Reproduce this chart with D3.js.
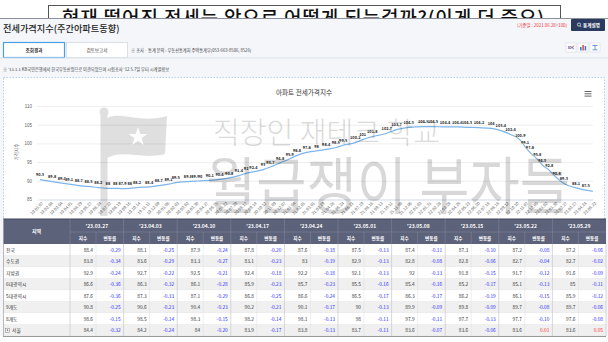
<!DOCTYPE html>
<html><head><meta charset="utf-8">
<script src="https://cdn.jsdelivr.net/npm/d3@7"></script>
<style>
html,body{margin:0;padding:0;background:#fff;}
svg{display:block;font-family:"Noto Sans CJK KR","Noto Sans",sans-serif;}
</style></head><body>
<svg id="c" width="608" height="342"></svg>
<script>
// ---- text ----
const bannerTitle = "현재 떨어진 전세는 앞으로 어떻게 되는걸까?(이게 더 중요)";
const pageTitle = "전세가격지수(주간아파트동향)";
const baseNote = "(기준일 : 2021.06.28=100)";
const inquiryNote = "※ 조사 · 통계 문의 : 부동산통계처 주택통계부(053-663-8506, 8526)";
const seriesNote = "※ '13.1.1 KB국민은행에서 한국부동산원으로 이관되었으며 시험조사 '12.5.7일 부터 시계열확보";
const chartTitle = "아파트 전세가격지수";
const yTitle = "가격지수";

// ---- chart series (labelled weekly points) ----
const pointDates = ["2019-01-07","2019-02-11","2019-03-11","2019-04-01","2019-04-29","2019-05-27","2019-06-24","2019-07-22","2019-08-12","2019-09-02","2019-09-23","2019-10-14","2019-11-18","2019-12-16","2020-01-13","2020-02-03","2020-03-09","2020-03-30","2020-04-13","2020-05-11","2020-06-08","2020-07-06","2020-08-03","2020-08-24","2020-09-14","2020-10-12","2020-11-02","2020-11-30","2020-12-28","2021-01-18","2021-02-15","2021-03-15","2021-04-12","2021-05-10","2021-05-31","2021-07-05","2021-07-26","2021-08-23","2021-10-04","2021-11-01","2021-12-06","2022-01-17","2022-02-14","2022-03-21","2022-04-25","2022-05-23","2022-06-27","2022-08-01","2022-08-29","2022-09-26","2022-10-24","2022-11-07","2022-11-21","2022-12-12","2022-12-26","2023-01-16","2023-02-06","2023-02-27","2023-04-03","2023-05-01"];
const pointValues = [90.3,89.8,89.4,89.1,88.7,88.5,88.2,88,88,87.9,88,88.2,88.4,88.7,89.1,89.5,89.8,89.9,90,90.1,90.4,90.8,91.4,92,92.4,93,93.7,94.8,95.9,96.8,97.6,98,98.4,98.9,99.5,100.2,101,101.8,102.7,103.7,104.3,104.5,104.5,104.4,104.4,104.3,104.2,104,103.4,102.4,100.9,99.1,97.6,95.8,94.3,92.8,90.8,89.3,88.1,87.5];
// latest weeks drawn on the line without a label
const trailingDates = ["2023-05-08","2023-05-15","2023-05-22"];
const trailingValues = [87.4,87.3,87.2];

const axisStart = "2019-01-07", axisEnd = "2023-05-22";
const yTicks = [85,90,95,100,105,110];

// ---- table ----
const regions = ["전국","수도권","지방권","6대광역시","5대광역시","9개도","8개도","서울"];
const weekLabels = ["'23.03.27","'23.04.03","'23.04.10","'23.04.17","'23.04.24","'23.05.01","'23.05.08","'23.05.15","'23.05.22","'23.05.29"];
const indexRows = [
  [88.4,88.1,87.9,87.8,87.6,87.5,87.4,87.3,87.2,87.2],
  [83.8,83.6,83.3,83.1,83,82.9,82.8,82.8,82.7,82.7],
  [92.9,92.7,92.5,92.4,92.2,92.1,92,91.8,91.7,91.6],
  [86.6,86.3,86.1,85.9,85.7,85.5,85.4,85.2,85.1,85],
  [87.6,87.3,87.1,86.8,86.6,86.5,86.3,86.2,86.1,85.9],
  [90.8,90.6,90.4,90.2,90.1,90,89.9,89.8,89.7,89.7],
  [98.6,98.5,98.3,98.2,98.1,98,97.9,97.7,97.7,97.6],
  [84.4,84.2,84,83.9,83.8,83.7,83.6,83.6,83.6,83.6]
];
const changeRows = [
  [-0.29,-0.25,-0.24,-0.20,-0.18,-0.13,-0.11,-0.10,-0.08,-0.06],
  [-0.34,-0.29,-0.27,-0.23,-0.19,-0.13,-0.08,-0.06,-0.04,-0.02],
  [-0.24,-0.22,-0.21,-0.18,-0.18,-0.13,-0.13,-0.15,-0.12,-0.09],
  [-0.36,-0.32,-0.28,-0.23,-0.23,-0.16,-0.16,-0.17,-0.13,-0.11],
  [-0.36,-0.33,-0.29,-0.25,-0.24,-0.17,-0.17,-0.19,-0.15,-0.12],
  [-0.25,-0.23,-0.23,-0.21,-0.17,-0.13,-0.09,-0.09,-0.08,-0.06],
  [-0.15,-0.14,-0.15,-0.14,-0.13,-0.11,-0.11,-0.13,-0.10,-0.08],
  [-0.32,-0.24,-0.20,-0.17,-0.13,-0.11,-0.07,-0.06,0.01,0.05]
];

const svg = d3.select("#c");
const parse = d3.timeParse("%Y-%m-%d");

// ---------- banner ----------
svg.append("rect").attr("x",48.5).attr("y",5.5).attr("width",512).attr("height",40)
  .attr("fill","#fff").attr("stroke","#555");
svg.append("text").attr("x",62).attr("y",25).attr("font-size",19).attr("font-weight",500)
  .attr("fill","#111").attr("textLength",482).attr("lengthAdjust","spacing").text(bannerTitle);

// ---------- page ----------
svg.append("rect").attr("x",0).attr("y",18).attr("width",608).attr("height",324).attr("fill","#f4f6fa");
svg.append("line").attr("x1",0).attr("x2",608).attr("y1",18.5).attr("y2",18.5).attr("stroke","#8a8f99");

svg.append("text").attr("x",3).attr("y",31.5).attr("font-size",9.2).attr("font-weight",500)
  .attr("fill","#222").text(pageTitle);
svg.append("text").attr("x",567).attr("y",26.5).attr("font-size",4.4).attr("text-anchor","end")
  .attr("fill","#e33").text(baseNote);

// button
const btn = svg.append("g").attr("transform","translate(571,19)");
btn.append("rect").attr("width",34).attr("height",12).attr("rx",1).attr("fill","#2a3b5f");
btn.append("circle").attr("cx",8).attr("cy",5.6).attr("r",1.6).attr("fill","none").attr("stroke","#fff").attr("stroke-width",0.7);
btn.append("line").attr("x1",9.1).attr("y1",6.8).attr("x2",10.3).attr("y2",8).attr("stroke","#fff").attr("stroke-width",0.7);
btn.append("text").attr("x",12).attr("y",7.7).attr("font-size",4.6).attr("font-weight",700)
  .attr("fill","#fff").text("통계설명");

// tabs
const tabs = [{t:"조회결과",x:3.5,on:true},{t:"검토보고서",x:66.5,on:false}];
tabs.forEach(d=>{
  svg.append("rect").attr("x",d.x).attr("y",42.5).attr("width",61).attr("height",15)
    .attr("fill","#fff").attr("stroke",d.on?"#46a0e6":"#d5d9e0").attr("stroke-width",d.on?1.2:0.8);
  svg.append("text").attr("x",d.x+30.5).attr("y",51.6).attr("text-anchor","middle")
    .attr("font-size",4.6).attr("font-weight",d.on?700:400).attr("fill","#333").text(d.t);
});
svg.append("text").attr("x",131).attr("y",51.5).attr("font-size",4.2).attr("fill","#444").text(inquiryNote);

// view icons
[566,578,590].forEach((ix,i)=>{
  const g = svg.append("g").attr("transform",`translate(${ix},43)`);
  g.append("rect").attr("width",10).attr("height",9).attr("fill","#fff").attr("stroke","#d5dbe5").attr("stroke-width",0.6);
  if(i===0){
    g.append("path").attr("d","M2,6 L4,3 L6,5.5 L8,2.5").attr("fill","none").attr("stroke","#e5533d").attr("stroke-width",0.8);
    g.append("path").attr("d","M2,3 L4,6 L6,3.5 L8,6.5").attr("fill","none").attr("stroke","#3b7ddd").attr("stroke-width",0.8);
  } else if(i===1){
    g.append("rect").attr("x",2).attr("y",4).attr("width",1.6).attr("height",3.5).attr("fill","#3b7ddd");
    g.append("rect").attr("x",4.3).attr("y",2).attr("width",1.6).attr("height",5.5).attr("fill","#e5533d");
    g.append("rect").attr("x",6.6).attr("y",3).attr("width",1.6).attr("height",4.5).attr("fill","#3b7ddd");
  } else {
    g.append("path").attr("d","M2.5,2.5 H7.5 M5,2.5 V6.5 M2.5,6.8 H7.5").attr("fill","none").attr("stroke","#3b7ddd").attr("stroke-width",0.8);
  }
});
svg.append("line").attr("x1",0).attr("x2",608).attr("y1",58).attr("y2",58).attr("stroke","#dde3ee");

svg.append("text").attr("x",3).attr("y",71).attr("font-size",4.2).attr("fill","#444").text(seriesNote);

// ---------- chart box ----------
svg.append("rect").attr("x",3.5).attr("y",77.5).attr("width",601).attr("height",150)
  .attr("fill","#fff").attr("stroke","#a9c4e4").attr("stroke-width",0.8).attr("stroke-dasharray","1.5,1.5");

svg.append("text").attr("x",304).attr("y",94.5).attr("text-anchor","middle").attr("font-size",6.6)
  .attr("fill","#333").text(chartTitle);
// menu icon
[91.5,93.8,96.1].forEach(yy=>svg.append("line").attr("x1",584.5).attr("x2",591.5).attr("y1",yy).attr("y2",yy)
  .attr("stroke","#666").attr("stroke-width",1));

const x = d3.scaleTime().domain([parse(axisStart), parse(axisEnd)]).range([40, 593]);
const y = d3.scaleLinear().domain([85, 110]).range([199.5, 106]);

const yAxis = svg.append("g").attr("transform","translate(37,0)")
  .call(d3.axisLeft(y).tickValues(yTicks).tickSize(-556).tickPadding(5));
yAxis.select(".domain").remove();
yAxis.selectAll("line").attr("stroke","#e6e6e6").attr("stroke-width",0.7);
yAxis.selectAll("text").attr("font-size",4.5).attr("fill","#666").attr("font-family",null);

svg.append("text").attr("transform","translate(18,152) rotate(-90)").attr("text-anchor","middle")
  .attr("font-size",4.5).attr("fill","#666").text(yTitle);

const xTickDates = d3.timeDay.range(parse(axisStart), d3.timeDay.offset(parse(axisEnd),1), 28);
const xAxis = svg.append("g").attr("transform","translate(0,199.5)")
  .call(d3.axisBottom(x).tickValues(xTickDates).tickFormat(d3.timeFormat("%y.%m.%d")).tickSize(0));
xAxis.select(".domain").attr("stroke","#ccd6eb").attr("stroke-width",0.7);
xAxis.selectAll("text").attr("font-size",4.2).attr("fill","#666").attr("font-family",null)
  .attr("y",0).attr("dy","0.35em").attr("text-anchor","end")
  .attr("transform","translate(2,3) rotate(-45)");

const points = pointDates.map((d,i)=>({date:parse(d), value:pointValues[i]}));
const tail = trailingDates.map((d,i)=>({date:parse(d), value:trailingValues[i]}));
const line = d3.line().curve(d3.curveMonotoneX).x(d=>x(d.date)).y(d=>y(d.value));
svg.append("path").datum(points.concat(tail)).attr("d",line)
  .attr("fill","none").attr("stroke","#7cb5ec").attr("stroke-width",1.2);

svg.append("g").selectAll("text").data(points).join("text")
  .attr("x",d=>x(d.date)).attr("y",d=>y(d.value)-3.2)
  .attr("text-anchor","middle").attr("font-size",3.9).attr("font-weight",700)
  .attr("fill","#222").attr("stroke","#fff").attr("stroke-width",0.7).attr("paint-order","stroke")
  .text(d=>d.value);

// ---------- watermark ----------
const wm = svg.append("g").attr("pointer-events","none");
const flag = wm.append("g").attr("fill","#000").attr("opacity",0.12);
flag.append("circle").attr("cx",104).attr("cy",112).attr("r",4.5);
flag.append("rect").attr("x",100.5).attr("y",115).attr("width",7).attr("height",101);
flag.append("path").attr("d","M107,118 C122,111 140,124 167,116 L165,154 C142,160 124,149 107,158 Z");
wm.append("path").attr("fill","#fff").attr("opacity",0.95)
  .attr("d", d3.symbol(d3.symbolStar, 110)()).attr("transform","translate(138,137)");
wm.append("text").attr("x",213).attr("y",143).attr("font-size",30).attr("font-weight",300)
  .attr("fill","#000").attr("opacity",0.14).attr("textLength",227).attr("lengthAdjust","spacingAndGlyphs")
  .text("직장인 재테크 학교");
wm.append("text").attr("x",206).attr("y",209).attr("font-size",62).attr("font-weight",400)
  .attr("fill","#000").attr("opacity",0.15).attr("textLength",364).attr("lengthAdjust","spacingAndGlyphs")
  .text("월급쟁이 부자들");

// ---------- table ----------
const T = {x0:3, regW:67, top:219, h1:13, h2:12, rowH:11.5};
const gW = (606 - (T.x0+T.regW)) / weekLabels.length;
const idxW = 26;
const gx = i => T.x0 + T.regW + i*gW;
const bodyTop = T.top + T.h1 + T.h2;
const tbl = svg.append("g");

// header
tbl.append("rect").attr("x",T.x0).attr("y",T.top).attr("width",603).attr("height",T.h1+T.h2).attr("fill","#5c6279");
tbl.append("line").attr("x1",T.x0).attr("x2",606).attr("y1",T.top).attr("y2",T.top).attr("stroke","#3f4458");
tbl.append("text").attr("x",T.x0+T.regW/2).attr("y",T.top+(T.h1+T.h2)/2+1.8).attr("text-anchor","middle")
  .attr("font-size",5).attr("font-weight",700).attr("fill","#fff").text("지역");
weekLabels.forEach((w,i)=>{
  const g0 = gx(i);
  tbl.append("line").attr("x1",g0).attr("x2",g0).attr("y1",T.top).attr("y2",bodyTop).attr("stroke","#80859a").attr("stroke-width",0.6);
  tbl.append("line").attr("x1",g0).attr("x2",g0+gW).attr("y1",T.top+T.h1).attr("y2",T.top+T.h1).attr("stroke","#80859a").attr("stroke-width",0.6);
  tbl.append("line").attr("x1",g0+idxW).attr("x2",g0+idxW).attr("y1",T.top+T.h1).attr("y2",bodyTop).attr("stroke","#80859a").attr("stroke-width",0.6);
  tbl.append("text").attr("x",g0+gW/2).attr("y",T.top+8.6).attr("text-anchor","middle")
    .attr("font-size",5).attr("font-weight",700).attr("fill","#fff").text(w);
  tbl.append("text").attr("x",g0+idxW/2).attr("y",T.top+T.h1+7.8).attr("text-anchor","middle")
    .attr("font-size",4.6).attr("font-weight",700).attr("fill","#fff").text("지수");
  tbl.append("text").attr("x",g0+idxW+(gW-idxW)/2).attr("y",T.top+T.h1+7.8).attr("text-anchor","middle")
    .attr("font-size",4.6).attr("font-weight",700).attr("fill","#fff").text("변동률");
});

// body
regions.forEach((r,ri)=>{
  const ry = bodyTop + ri*T.rowH;
  tbl.append("rect").attr("x",T.x0).attr("y",ry).attr("width",603).attr("height",T.rowH)
    .attr("fill", ri%2 ? "#f0f0f0" : "#fff");
  tbl.append("line").attr("x1",T.x0).attr("x2",606).attr("y1",ry+T.rowH).attr("y2",ry+T.rowH).attr("stroke","#e2e2e2").attr("stroke-width",0.5);
  let tx = 6;
  if(r==="서울"){
    tbl.append("rect").attr("x",5.5).attr("y",ry+3.7).attr("width",4).attr("height",4).attr("fill","#fff").attr("stroke","#777").attr("stroke-width",0.5);
    tbl.append("path").attr("d",`M6.5,${ry+5.7} H8.5 M7.5,${ry+4.7} V${ry+6.7}`).attr("stroke","#555").attr("stroke-width",0.5);
    tx = 12;
  }
  tbl.append("text").attr("x",tx).attr("y",ry+7.6).attr("font-size",4.8).attr("fill","#333").text(r);
  weekLabels.forEach((w,i)=>{
    const g0 = gx(i);
    tbl.append("text").attr("x",g0+idxW-3).attr("y",ry+7.6).attr("text-anchor","end")
      .attr("font-size",4.8).attr("fill","#333").text(String(indexRows[ri][i]));
    const c = changeRows[ri][i];
    tbl.append("text").attr("x",g0+gW-3).attr("y",ry+7.6).attr("text-anchor","end")
      .attr("font-size",4.8).attr("fill", c<0 ? "#2b2bff" : "#ff3030").text(c.toFixed(2));
  });
});
// body grid
const bodyBottom = bodyTop + regions.length*T.rowH;
tbl.append("line").attr("x1",T.x0+T.regW).attr("x2",T.x0+T.regW).attr("y1",bodyTop).attr("y2",bodyBottom).attr("stroke","#c9c9c9").attr("stroke-width",0.7);
weekLabels.forEach((w,i)=>{
  const g0 = gx(i);
  tbl.append("line").attr("x1",g0+idxW).attr("x2",g0+idxW).attr("y1",bodyTop).attr("y2",bodyBottom).attr("stroke","#dedede").attr("stroke-width",0.5);
  tbl.append("line").attr("x1",g0+gW).attr("x2",g0+gW).attr("y1",bodyTop).attr("y2",bodyBottom).attr("stroke","#c9c9c9").attr("stroke-width",0.7);
});
tbl.append("line").attr("x1",T.x0+0.5).attr("x2",T.x0+0.5).attr("y1",T.top).attr("y2",bodyBottom).attr("stroke","#aaa").attr("stroke-width",0.8);
tbl.append("rect").attr("x",0).attr("y",bodyBottom).attr("width",608).attr("height",342-bodyBottom).attr("fill","#fff");
tbl.append("line").attr("x1",T.x0).attr("x2",606).attr("y1",bodyBottom+0.5).attr("y2",bodyBottom+0.5).attr("stroke","#999").attr("stroke-width",1.2);
</script>
</body></html>
